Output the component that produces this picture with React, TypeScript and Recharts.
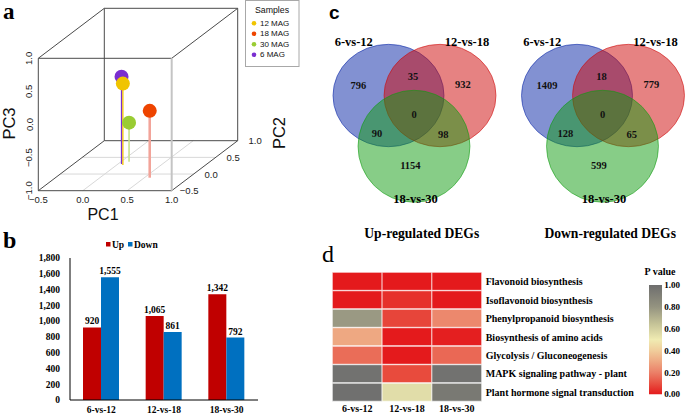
import React from "react";
import { ScatterChart, Scatter, XAxis, YAxis, BarChart, Bar, LabelList, Cell } from "recharts";

const SERIF = "'Liberation Serif','Times New Roman',serif";
const SANS = "'Liberation Sans',Arial,Helvetica,sans-serif";

// ---------- Panel a : PCA ----------
const sampleNames = ["6 MAG", "12 MAG", "30 MAG", "18 MAG"];
const pc1Values = [0.04, 0.07, 0.09, 0.56];
const pc2Values = [0.3, 0.27, 0.37, -0.11];
const pc3Values = [0.32, 0.23, -0.41, 0.01];
const legendSamples = ["12 MAG", "18 MAG", "30 MAG", "6 MAG"];
const pc1Ticks = [-0.5, 0, 0.5, 1];
const pc2Ticks = [-0.5, 0, 0.5, 1];
const pc3Ticks = [-1, -0.5, 0, 0.5, 1];

// ---------- Panel b : DEG counts ----------
const comparisons = ["6-vs-12", "12-vs-18", "18-vs-30"];
const upDEGs = [920, 1065, 1342];
const downDEGs = [1555, 861, 792];
const degTicks = [0, 200, 400, 600, 800, 1000, 1200, 1400, 1600, 1800];

// ---------- Panel c : Venn ----------
const vennSets = ["6-vs-12", "12-vs-18", "18-vs-30"];
// regions: A only, A∩B, B only, A∩B∩C, A∩C, B∩C, C only
const upRegionCounts = [796, 35, 932, 0, 90, 98, 1154];
const downRegionCounts = [1409, 18, 779, 0, 128, 65, 599];

// ---------- Panel d : KEGG heatmap ----------
const pathways = [
  "Flavonoid biosynthesis",
  "Isoflavonoid biosynthesis",
  "Phenylpropanoid biosynthesis",
  "Biosynthesis of amino acids",
  "Glycolysis / Gluconeogenesis",
  "MAPK signaling pathway - plant",
  "Plant hormone signal transduction",
];
const p6vs12 = [0, 0, 0.78, 0.3, 0.16, 0.98, 0.99];
const p12vs18 = [0, 0.04, 0.08, 0, 0, 0.09, 0.55];
const p18vs30 = [0, 0, 0.22, 0.01, 0.15, 0.98, 0.94];
const pValueTicks = [0, 0.2, 0.4, 0.6, 0.8, 1];

// ---------- styles ----------
const sampleColor: Record<string, string> = {
  "6 MAG": "#7A2ED0",
  "12 MAG": "#F0C400",
  "30 MAG": "#99CC33",
  "18 MAG": "#EE4400",
};
const stemStyle: Record<string, { stroke: string; w: number }> = {
  "6 MAG": { stroke: "#7A2ED0", w: 1.3 },
  "12 MAG": { stroke: "#F0C400", w: 1.3 },
  "30 MAG": { stroke: "#C6E08E", w: 1.6 },
  "18 MAG": { stroke: "#F2A49A", w: 2.6 },
};
const vennColors = ["#0523A5", "#CD0505", "#0F9B0F"];
const pStops: [number, [number, number, number]][] = [
  [0, [228, 26, 28]],
  [0.1, [232, 80, 65]],
  [0.2, [235, 128, 104]],
  [0.3, [238, 168, 130]],
  [0.4, [240, 205, 155]],
  [0.5, [240, 235, 178]],
  [0.65, [195, 193, 150]],
  [0.8, [148, 147, 128]],
  [1, [110, 110, 110]],
];
const rgb = (c: number[]) => `rgb(${c.map((v) => Math.round(v)).join(",")})`;
function pColor(p: number) {
  for (let i = 1; i < pStops.length; i++) {
    const [t1, c1] = pStops[i];
    const [t0, c0] = pStops[i - 1];
    if (p <= t1) {
      const f = (p - t0) / (t1 - t0);
      return rgb(c0.map((v, k) => v + (c1[k] - v) * f));
    }
  }
  return rgb(pStops[pStops.length - 1][1]);
}
const fmtTick = (t: number) => (t < 0 ? "\u2212" + Math.abs(t).toFixed(1) : t.toFixed(1));

// generic text-as-scatter helper
function textLayer(key: string, data: any[], font: any) {
  return (
    <Scatter
      key={key}
      data={data}
      isAnimationActive={false}
      shape={(p: any) => {
        const d = p.payload;
        const x = p.cx + (d.dx || 0);
        const y = p.cy + (d.dy || 0);
        return (
          <text
            x={x}
            y={y}
            textAnchor={d.anchor || "middle"}
            dominantBaseline="central"
            transform={d.rot ? `rotate(${d.rot} ${x} ${y})` : undefined}
            {...font}
          >
            {d.label}
          </text>
        );
      }}
    />
  );
}

// ---------- Panel a chart ----------
const PA = { fx: 38.3, fy: 190.7, fw: 133.4, fh: 132.4, dx: 66, dy: 50, W: 320, H: 215 };
function proj(a: number, b: number, c: number) {
  const t = (b + 0.5) / 1.5;
  return { x: ((a + 0.5) / 1.5) * PA.fw + t * PA.dx, y: ((c + 1) / 2) * PA.fh + t * PA.dy };
}
function seg(key: string, p: number[], q: number[], stroke: string, w: number) {
  return (
    <Scatter
      key={key}
      data={[proj(p[0], p[1], p[2]), proj(q[0], q[1], q[2])]}
      fill="none"
      line={{ stroke, strokeWidth: w }}
      shape={() => <g />}
      isAnimationActive={false}
    />
  );
}

function PcaChart() {
  const L = -0.5, R = 1, F = -0.5, B = 1, D = -1, U = 1;
  const grid = [
    ...pc1Ticks.filter((t) => t > L && t < R).map((t) => [[t, F, D], [t, B, D]]),
    ...pc2Ticks.filter((t) => t > F && t < B).map((t) => [[L, t, D], [R, t, D]]),
  ];
  const edges = [
    [[L, B, D], [R, B, D]], [[L, B, U], [R, B, U]], [[L, B, D], [L, B, U]], [[R, B, D], [R, B, U]],
    [[L, F, D], [L, B, D]], [[L, F, U], [L, B, U]], [[R, F, U], [R, B, U]], [[R, F, D], [R, B, D]],
    [[L, F, D], [R, F, D]], [[L, F, U], [R, F, U]], [[L, F, D], [L, F, U]],
  ];
  const balls = sampleNames.map((n, i) => ({ ...proj(pc1Values[i], pc2Values[i], pc3Values[i]), name: n }));
  const tickFont = { fontFamily: SANS, fontSize: 9.5, fill: "#222" };
  const pc1Lab = pc1Ticks.map((t) => ({ ...proj(t, F, D), label: fmtTick(t), dy: 8.6 }));
  const pc3Lab = pc3Ticks.map((t) => ({ ...proj(L, F, t), label: fmtTick(t), dx: -9.3, rot: -90 }));
  const pc2Lab = pc2Ticks.map((t) => ({ ...proj(R, t, D), label: fmtTick(t), dx: 17.5 }));
  return (
    <ScatterChart width={PA.W} height={PA.H} margin={{ top: 0, right: 0, bottom: 0, left: 0 }}>
      <XAxis type="number" dataKey="x" domain={[-PA.fx, PA.W - PA.fx]} hide allowDataOverflow />
      <YAxis type="number" dataKey="y" domain={[PA.fy - PA.H, PA.fy]} hide allowDataOverflow />
      {grid.map((g, i) => seg("g" + i, g[0], g[1], "#d8d8d8", 1))}
      {edges.map((e, i) => seg("e" + i, e[0], e[1], "#4a4a4a", 1))}
      {seg("fr", [R, F, D], [R, F, U], "#c4c4c4", 2)}
      {sampleNames.map((n, i) =>
        seg("s" + i, [pc1Values[i], pc2Values[i], pc3Values[i]], [pc1Values[i], pc2Values[i], D], stemStyle[n].stroke, stemStyle[n].w)
      )}
      <Scatter
        data={balls}
        isAnimationActive={false}
        shape={(p: any) => <circle cx={p.cx} cy={p.cy} r={7} fill={sampleColor[p.payload.name]} />}
      />
      {textLayer("t1", pc1Lab, tickFont)}
      {textLayer("t3", pc3Lab, tickFont)}
      {textLayer("t2", pc2Lab, tickFont)}
    </ScatterChart>
  );
}

// ---------- Panel b chart ----------
function DegBarChart() {
  const data = comparisons.map((c, i) => ({ name: c, up: upDEGs[i], down: downDEGs[i] }));
  const font = { fontFamily: SERIF, fontSize: 9.5, fontWeight: 700, fill: "#000" };
  const fmt = (v: any) => Number(v).toLocaleString("en-US");
  return (
    <BarChart width={320} height={200} data={data} margin={{ top: 43, right: 62, bottom: 0, left: 0 }} barGap={0}>
      <XAxis dataKey="name" height={15} axisLine={{ stroke: "#000" }} tickLine={false} tickSize={6} tickMargin={0} tick={font} interval={0} />
      <YAxis
        width={70}
        domain={[0, 1800]}
        ticks={degTicks}
        interval={0}
        tickFormatter={fmt}
        axisLine={{ stroke: "#000" }}
        tickLine={false}
        tickSize={6}
        tickMargin={4}
        tick={font}
      />
      <Bar dataKey="up" fill="#C00000" barSize={18} isAnimationActive={false}>
        <LabelList dataKey="up" position="top" offset={3} formatter={fmt} {...font} />
      </Bar>
      <Bar dataKey="down" fill="#0070C0" barSize={18} isAnimationActive={false}>
        <LabelList dataKey="down" position="top" offset={3} formatter={fmt} {...font} />
      </Bar>
    </BarChart>
  );
}

// ---------- Panel c charts ----------
const VS = 51.5;
const VH = 245;
const VOY = 120.5;
const vennCenters = [[-0.495, 0.485], [0.505, 0.485], [0, -0.5]];
const vennRadii = [[1.078, 0.994], [1.087, 0.994], [1.087, 1.087]];
const regionPos = [[-1.08, 0.67], [-0.02, 0.86], [0.95, 0.69], [0, 0.11], [-0.72, -0.25], [0.57, -0.28], [-0.07, -0.87]];
const setLabelPos = [[-1.17, 1.53], [1.03, 1.53], [0.03, -1.53]];
const titlePos = [0.15, -2.19];

function VennChart({ counts, title, width, originX }: { counts: number[]; title: string; width: number; originX: number }) {
  const sets = vennSets.map((n, i) => ({ x: vennCenters[i][0], y: vennCenters[i][1], i }));
  const regions = counts.map((c, i) => ({ x: regionPos[i][0], y: regionPos[i][1], label: String(c) }));
  const names = vennSets.map((n, i) => ({ x: setLabelPos[i][0], y: setLabelPos[i][1], label: n }));
  const titles = [{ x: titlePos[0], y: titlePos[1], label: title }];
  return (
    <ScatterChart width={width} height={VH} margin={{ top: 0, right: 0, bottom: 0, left: 0 }}>
      <XAxis type="number" dataKey="x" domain={[-originX / VS, (width - originX) / VS]} hide allowDataOverflow />
      <YAxis type="number" dataKey="y" domain={[-(VH - VOY) / VS, VOY / VS]} hide allowDataOverflow />
      <Scatter
        data={sets}
        isAnimationActive={false}
        shape={(p: any) => {
          const i = p.payload.i;
          return (
            <ellipse
              cx={p.cx}
              cy={p.cy}
              rx={vennRadii[i][0] * VS}
              ry={vennRadii[i][1] * VS}
              fill={vennColors[i]}
              fillOpacity={0.5}
              stroke={vennColors[i]}
              strokeOpacity={0.55}
              strokeWidth={1}
            />
          );
        }}
      />
      {textLayer("r", regions, { fontFamily: SERIF, fontSize: 10.5, fontWeight: 700, fill: "#111" })}
      {textLayer("n", names, { fontFamily: SERIF, fontSize: 12.5, fontWeight: 700, fill: "#000" })}
      {textLayer("ti", titles, { fontFamily: SERIF, fontSize: 13.6, fontWeight: 700, fill: "#000" })}
    </ScatterChart>
  );
}

// ---------- Panel d charts ----------
const hmFont = { fontFamily: SERIF, fontSize: 10, fontWeight: 700, fill: "#000" };
const HmRowTick = (props: any) => {
  const { x, y, payload } = props;
  return (
    <text x={x} y={y} textAnchor="start" dominantBaseline="central" {...hmFont}>
      {payload.value}
    </text>
  );
};
const HmColTick = (props: any) => {
  const { x, y, payload } = props;
  return (
    <text x={x} y={y} dy="0.71em" textAnchor="middle" {...hmFont}>
      {comparisons[Math.floor(payload.value)]}
    </text>
  );
};

function Heatmap() {
  const cols = [p6vs12, p12vs18, p18vs30];
  const data = pathways.map((name) => ({ name, c0: 1, c1: 1, c2: 1 }));
  return (
    <BarChart layout="vertical" width={325} height={170} data={data} margin={{ top: 27.3, right: 0, bottom: 0, left: 12.3 }} barCategoryGap={0}>
      <XAxis
        type="number"
        domain={[0, 3]}
        ticks={[0.5, 1.5, 2.5]}
        interval={0}
        axisLine={false}
        tickLine={false}
        tickSize={3}
        tickMargin={0}
        height={13.3}
        tick={<HmColTick />}
      />
      <YAxis
        type="category"
        dataKey="name"
        orientation="right"
        width={163.3}
        axisLine={false}
        tickLine={false}
        tickSize={4}
        tickMargin={0}
        interval={0}
        tick={<HmRowTick />}
      />
      {cols.map((pv, j) => (
        <Bar key={j} dataKey={"c" + j} stackId="h" isAnimationActive={false} stroke="#ffffff" strokeOpacity={0.65} strokeWidth={1}>
          {pv.map((p, i) => (
            <Cell key={i} fill={pColor(p)} />
          ))}
        </Bar>
      ))}
    </BarChart>
  );
}

function ColorBar() {
  const font = { fontFamily: SERIF, fontSize: 9, fontWeight: 700, fill: "#000" };
  return (
    <BarChart width={45} height={170} data={[{ name: "P", v: 1 }]} margin={{ top: 40, right: 0, bottom: 20.7, left: 9 }} barCategoryGap={0}>
      <defs>
        <linearGradient id="pgrad" x1="0" y1="1" x2="0" y2="0">
          {pStops.map(([t, c]) => (
            <stop key={t} offset={t} stopColor={rgb(c)} />
          ))}
        </linearGradient>
      </defs>
      <XAxis dataKey="name" type="category" hide />
      <YAxis
        type="number"
        orientation="right"
        width={22.7}
        domain={[0, 1]}
        ticks={pValueTicks}
        interval={0}
        tickFormatter={(v: number) => v.toFixed(2)}
        axisLine={false}
        tickLine={false}
        tickSize={2}
        tickMargin={0}
        tick={font}
      />
      <Bar dataKey="v" fill="url(#pgrad)" isAnimationActive={false} />
    </BarChart>
  );
}

export default function App() {
  const abs = (left: number, top: number): React.CSSProperties => ({ position: "absolute", left, top });
  return (
    <div style={{ position: "absolute", left: 0, top: 0, width: 685, height: 415, background: "#fff", overflow: "hidden" }}>
      <div style={abs(0, 0)}>
        <PcaChart />
      </div>
      <div style={abs(0, 215)}>
        <DegBarChart />
      </div>
      <div style={abs(320, 0)}>
        <VennChart counts={upRegionCounts} title="Up-regulated DEGs" width={182} originX={94} />
      </div>
      <div style={abs(502, 0)}>
        <VennChart counts={downRegionCounts} title="Down-regulated DEGs" width={183} originX={100.5} />
      </div>
      <div style={abs(320, 245)}>
        <Heatmap />
      </div>
      <div style={abs(640, 245)}>
        <ColorBar />
      </div>
      <svg width={685} height={415} style={{ position: "absolute", left: 0, top: 0, pointerEvents: "none" }}>
        {/* panel letters */}
        <text x={3} y={19} fontFamily={SERIF} fontWeight={700} fontSize={23}>a</text>
        <text x={3} y={248} fontFamily={SERIF} fontWeight={700} fontSize={24}>b</text>
        <text x={329} y={18.5} fontFamily={SANS} fontWeight={700} fontSize={19}>c</text>
        <text x={322} y={262} fontFamily={SERIF} fontSize={24}>d</text>
        {/* panel a axis titles */}
        <text x={103} y={214} textAnchor="middle" dominantBaseline="central" fontFamily={SANS} fontSize={16} fill="#111">PC1</text>
        <text x={8.5} y={123.5} textAnchor="middle" dominantBaseline="central" fontFamily={SANS} fontSize={16.5} fill="#111" transform="rotate(-90 8.5 123.5)">PC3</text>
        <text x={278.5} y={133} textAnchor="middle" dominantBaseline="central" fontFamily={SANS} fontSize={16.5} fill="#111" transform="rotate(-90 278.5 133)">PC2</text>
        {/* panel a legend */}
        <rect x={245.5} y={0.5} width={53.5} height={66} fill="#fff" stroke="#a8a8a8" />
        <text x={272} y={9.5} textAnchor="middle" dominantBaseline="central" fontFamily={SANS} fontSize={8.8} fill="#111">Samples</text>
        {legendSamples.map((n, i) => (
          <g key={n}>
            <circle cx={254} cy={23.3 + i * 10.5} r={2.3} fill={sampleColor[n]} />
            <text x={260} y={23.3 + i * 10.5} dominantBaseline="central" fontFamily={SANS} fontSize={8} fill="#111">{n}</text>
          </g>
        ))}
        {/* panel b legend */}
        <rect x={106} y={242} width={4.5} height={4.5} fill="#C00000" />
        <text x={112} y={247.5} fontFamily={SERIF} fontWeight={700} fontSize={9.5}>Up</text>
        <rect x={128} y={242} width={4.5} height={4.5} fill="#0070C0" />
        <text x={134} y={247.5} fontFamily={SERIF} fontWeight={700} fontSize={9.5}>Down</text>
        {/* panel d colour bar title */}
        <text x={660} y={271} textAnchor="middle" dominantBaseline="central" fontFamily={SERIF} fontWeight={700} fontSize={10}>P value</text>
      </svg>
    </div>
  );
}
